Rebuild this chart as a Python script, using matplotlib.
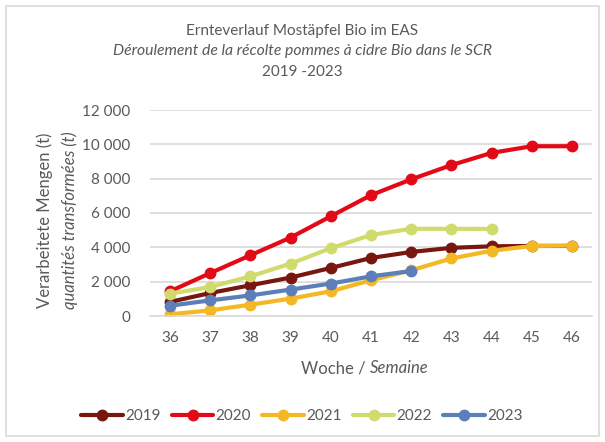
import matplotlib.pyplot as plt
from matplotlib.ticker import FuncFormatter
from matplotlib.patches import Rectangle

# Daten (Wochen / Verarbeitete Mengen in t)
weeks = [36, 37, 38, 39, 40, 41, 42, 43, 44, 45, 46]
y2019 = [820, 1340, 1790, 2240, 2800, 3380, 3730, 3970, 4060, 4080, 4080]
y2020 = [1440, 2500, 3540, 4570, 5810, 7040, 7960, 8790, 9500, 9890, 9890]
y2021 = [100, 330, 660, 1010, 1440, 2080, 2660, 3350, 3800, 4080, 4100]
y2022 = [1300, 1690, 2310, 3050, 3950, 4720, 5080, 5080, 5070]
y2023 = [600, 910, 1200, 1540, 1890, 2310, 2620]

series = [
    ('2019', y2019, '#77170F'),
    ('2020', y2020, '#E20A16'),
    ('2021', y2021, '#F4B824'),
    ('2022', y2022, '#D0DB6B'),
    ('2023', y2023, '#5C7EB9'),
]

plt.rcParams['font.family'] = ['Lato', 'DejaVu Sans']
grau = '#595959'

fig = plt.figure(figsize=(6.05, 4.42), dpi=100)
ax = fig.add_axes([150 / 605, 1 - 316 / 442, 442 / 605, 206 / 442])

for name, vals, col in series:
    ax.plot(weeks[:len(vals)], vals, color=col, linewidth=3.0, marker='o',
            markersize=7.5, label=name, solid_capstyle='round')

ax.set_xlim(35.5, 46.5)
ax.set_ylim(0, 12000)
ax.set_xticks(weeks)
ax.set_yticks(range(0, 12001, 2000))
ax.yaxis.set_major_formatter(FuncFormatter(lambda v, p: f'{int(v):,}'.replace(',', ' ')))
ax.tick_params(length=0, labelsize=11, colors=grau)
ax.tick_params(axis='y', pad=14)
ax.tick_params(axis='x', pad=11)

# Gitter und Achsen
ax.grid(axis='y', color='#D9D9D9', linewidth=1.2)
ax.set_axisbelow(True)
for s in ['top', 'right', 'left']:
    ax.spines[s].set_visible(False)
ax.spines['bottom'].set_color('#D9D9D9')
ax.spines['bottom'].set_linewidth(1.2)

# Titel
fig.text(0.5, 1 - 31 / 442, 'Ernteverlauf Mostäpfel Bio im EAS', ha='center', va='center', fontsize=11, color=grau)
fig.text(0.5, 1 - 51 / 442, 'Déroulement de la récolte pommes à cidre Bio dans le SCR', ha='center', va='center',
         fontsize=11.3, color=grau, style='italic')
fig.text(0.5, 1 - 72 / 442, '2019 -2023', ha='center', va='center', fontsize=11, color=grau)

# Achsentitel
fig.text(45 / 605, 1 - 220 / 442, 'Verarbeitete Mengen (t)', rotation=90, ha='center', va='center',
         fontsize=12, color=grau)
fig.text(70 / 605, 1 - 220 / 442, 'quantités transformées (t)', rotation=90, ha='center', va='center',
         fontsize=12, color=grau, style='italic')
fig.text(370 / 605, 1 - 368 / 442, 'Woche / ', ha='right', va='center', fontsize=12, color=grau)
fig.text(370 / 605, 1 - 368 / 442, 'Semaine', ha='left', va='center', fontsize=12, color=grau, style='italic')

# Legende
leg = fig.legend(loc='center', bbox_to_anchor=(302 / 605, 1 - 416 / 442), ncol=5, frameon=False,
                 fontsize=11, handlelength=2.7, columnspacing=0.75, handletextpad=0.15)
for t in leg.get_texts():
    t.set_color(grau)

# Rahmen
fig.patches.append(Rectangle((6 / 605, 6 / 442), 593 / 605, 430 / 442, transform=fig.transFigure,
                             fill=False, edgecolor='#D9D9D9', linewidth=1.2))

fig.savefig('out.png', dpi=100)
